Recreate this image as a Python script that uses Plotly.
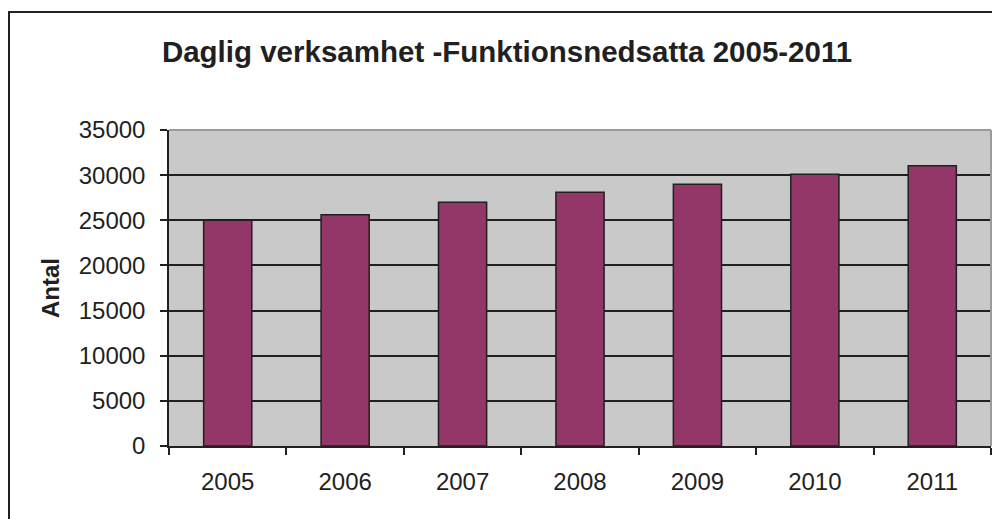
import plotly.graph_objects as go

years = ["2005", "2006", "2007", "2008", "2009", "2010", "2011"]
antal = [25000, 25600, 27000, 28100, 29000, 30100, 31050]
y_ticks = [0, 5000, 10000, 15000, 20000, 25000, 30000, 35000]

# page has an 8px body margin: figure is sized/positioned to compensate
W, H = 992, 511
L, R, T, B = 161, 9, 122, 73
pw, ph = W - L - R, H - T - B

fig = go.Figure()
fig.add_trace(go.Bar(
    x=years, y=antal,
    marker=dict(color="#933668", line=dict(color="#231f20", width=1.5)),
))

font = "Liberation Sans, Arial, sans-serif"
fig.update_layout(
    width=W, height=H,
    margin=dict(l=L, r=R, t=T, b=B),
    paper_bgcolor="white",
    plot_bgcolor="#c8c9c8",
    bargap=0.59,
    showlegend=False,
    title=dict(text="<b>Daglig verksamhet -Funktionsnedsatta 2005-2011</b>",
               x=(507 - 8) / W, xref="container", xanchor="center", y=1 - 44 / H, yanchor="middle",
               font=dict(family=font, size=29.5, color="#231f20")),
    font=dict(family=font, size=24, color="#231f20"),
)
fig.update_xaxes(
    type="category", tickson="boundaries", ticks="outside", ticklen=7, tickwidth=1.5,
    tickcolor="#231f20", showline=True, linecolor="#231f20", linewidth=1.5,
    showgrid=False, ticklabelstandoff=13,
    tickfont=dict(family=font, size=24, color="#231f20"),
)
fig.update_yaxes(
    range=[0, 35000], tickvals=y_ticks, tickformat="d", ticks="outside", ticklen=7, tickwidth=1.5,
    tickcolor="#231f20", showline=True, linecolor="#231f20", linewidth=1.5,
    showgrid=True, gridcolor="#231f20", gridwidth=1.5, zeroline=False,
    ticklabelstandoff=10,
    title=dict(text="<b>Antal</b>", font=dict(family=font, size=24, color="#231f20"), standoff=12),
    tickfont=dict(family=font, size=24, color="#231f20"),
)
# gray top/right border of the plot area
fig.add_shape(type="line", xref="paper", yref="paper", x0=0, x1=1, y0=1, y1=1,
              line=dict(color="#9a9a9a", width=2))
fig.add_shape(type="line", xref="paper", yref="paper", x0=1, x1=1, y0=0, y1=1,
              line=dict(color="#9a9a9a", width=2))
# outer chart frame
fig.add_shape(type="rect", xref="paper", yref="paper",
              x0=(1 - L) / pw, x1=(1005 - L) / pw,
              y0=(H - B - 530) / ph, y1=(H - B - 4) / ph,
              line=dict(color="#231f20", width=2), fillcolor="rgba(0,0,0,0)")

fig.write_html("out.html")
